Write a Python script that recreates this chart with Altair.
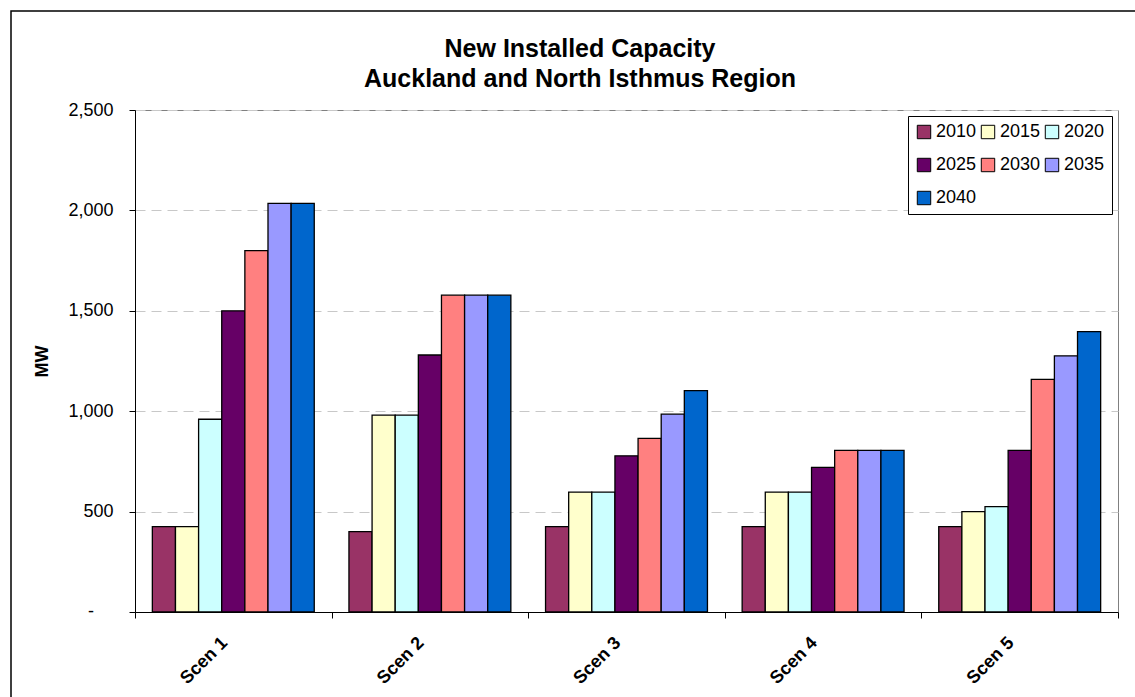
import altair as alt
import pandas as pd

scenarios = ["Scen 1", "Scen 2", "Scen 3", "Scen 4", "Scen 5"]
years = ["2010", "2015", "2020", "2025", "2030", "2035", "2040"]

# New installed capacity (MW) per year, one value per scenario
mw_2010 = [425, 400, 425, 425, 425]
mw_2015 = [425, 980, 597, 597, 500]
mw_2020 = [960, 980, 597, 597, 525]
mw_2025 = [1500, 1280, 778, 720, 805]
mw_2030 = [1800, 1578, 865, 805, 1158]
mw_2035 = [2035, 1578, 985, 805, 1276]
mw_2040 = [2035, 1578, 1102, 805, 1396]

colors = ["#993366", "#FFFFCC", "#CCFFFF", "#660066", "#FF8080", "#9999FF", "#0066CC"]
y_ticks = [0, 500, 1000, 1500, 2000, 2500]
title_lines = ["New Installed Capacity", "Auckland and North Isthmus Region"]

series = [mw_2010, mw_2015, mw_2020, mw_2025, mw_2030, mw_2035, mw_2040]
rows = []
for year, vals in zip(years, series):
    for scen, v in zip(scenarios, vals):
        rows.append({"scenario": scen, "year": year, "mw": v})
df = pd.DataFrame(rows)

FONT = "Liberation Sans"
W, H = 983, 502

# outer chart frame
frame = alt.Chart(alt.Data(values=[{}])).mark_rect(
    fill="transparent", stroke="black", strokeWidth=1.5
).encode(
    x=alt.value(-124), x2=alt.value(1200),
    y=alt.value(-99), y2=alt.value(800),
)

# two-line chart heading
heading = alt.Chart(alt.Data(values=[{}])).mark_text(
    font=FONT, fontSize=25, fontWeight="bold", color="black",
    align="center", baseline="alphabetic", lineHeight=30,
).encode(
    x=alt.value(445),
    y=alt.value(-53),
    text=alt.value(title_lines),
)

# accounting-style dash for the zero tick, set in from the other labels
zero_label = alt.Chart(alt.Data(values=[{"mw": 0, "label": "-"}])).mark_text(
    font=FONT, fontSize=18, color="black", align="center", baseline="middle",
).encode(
    x=alt.value(-44),
    y=alt.Y("mw:Q"),
    text="label:N",
)

bars = alt.Chart(df).mark_bar(stroke="black", strokeWidth=1.3).encode(
    x=alt.X(
        "scenario:N",
        sort=scenarios,
        title=None,
        scale=alt.Scale(paddingInner=0, paddingOuter=0),
        axis=alt.Axis(
            labelAngle=-45,
            labelAlign="right",
            labelBaseline="middle",
            labelFont=FONT,
            labelFontSize=18,
            labelFontWeight="bold",
            labelColor="black",
            labelPadding=22,
            labelOffset=-9,
            tickBand="extent",
            tickSize=6,
            tickColor="black",
            domainColor="black",
            grid=False,
        ),
    ),
    xOffset=alt.XOffset(
        "year:N", sort=years, scale=alt.Scale(paddingInner=0, paddingOuter=0.75)
    ),
    y=alt.Y(
        "mw:Q",
        title="MW",
        scale=alt.Scale(domain=[0, 2500], nice=False),
        axis=alt.Axis(
            values=y_ticks,
            labelExpr="datum.value == 0 ? '' : format(datum.value, ',')",
            labelFont=FONT,
            labelFontSize=18,
            labelColor="black",
            labelPadding=16,
            tickSize=6,
            tickColor="black",
            domainColor="black",
            grid=True,
            gridColor="#c8c8c8",
            gridDash=[10, 6],
            gridWidth=1,
            titleFont=FONT,
            titleFontSize=18,
            titleFontWeight="bold",
            titleColor="black",
            titleAngle=-90,
            titleX=-93,
            titleY=H / 2,
            titleBaseline="middle",
            titleAlign="center",
        ),
    ),
    color=alt.Color(
        "year:N",
        sort=years,
        scale=alt.Scale(domain=years, range=colors),
        legend=alt.Legend(
            title=None,
            orient="none",
            legendX=773,
            legendY=6,
            direction="horizontal",
            columns=3,
            columnPadding=2,
            rowPadding=15,
            padding=7,
            strokeColor="black",
            fillColor="white",
            symbolType="square",
            symbolSize=180,
            symbolStrokeColor="black",
            symbolStrokeWidth=1,
            symbolOpacity=1,
            labelFont=FONT,
            labelFontSize=18,
            labelColor="black",
            labelOffset=3,
        ),
    ),
)

chart = alt.layer(frame, heading, bars, zero_label).properties(
    width=W,
    height=H,
    autosize=alt.AutoSizeParams(type="none"),
    padding={"left": 135, "top": 110, "right": 17, "bottom": 85},
    background="white",
).configure_view(stroke="#808080", strokeWidth=1)

chart.save("out.html", embed_options={"renderer": "svg", "actions": False})
